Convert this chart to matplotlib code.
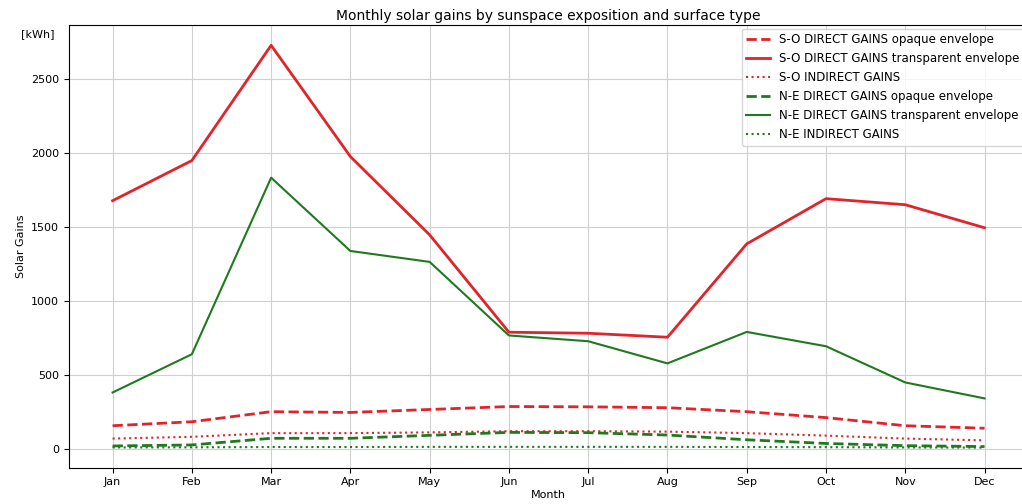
import numpy as np
import matplotlib
matplotlib.use("Agg")
import matplotlib.pyplot as plt

months = ["Jan", "Feb", "Mar", "Apr", "May", "Jun", "Jul", "Aug", "Sep", "Oct", "Nov", "Dec"]

# S-O exposition
so_opaque = [155, 182, 250, 245, 265, 285, 283, 277, 250, 210, 155, 138]
so_transparent = [1678, 1950, 2730, 1977, 1447, 788, 781, 754, 1386, 1692, 1651, 1495]
so_indirect = [68, 80, 105, 105, 110, 118, 118, 115, 105, 88, 68, 56]

# N-E exposition
ne_opaque = [18, 25, 70, 70, 90, 110, 108, 92, 60, 35, 20, 14]
ne_transparent = [380, 639, 1834, 1338, 1264, 766, 727, 577, 790, 693, 448, 340]
ne_indirect = [8, 9, 11, 11, 12, 12, 12, 12, 11, 10, 8, 7]

red = "#e0242c"
green = "#1f7a1f"

fig = plt.figure(figsize=(10.22, 5.04), dpi=100)
ax = fig.add_axes([0.0675, 0.072, 0.9385, 0.878])

ax.plot(months, so_opaque, color=red, ls="--", lw=2, label="S-O DIRECT GAINS opaque envelope")
ax.plot(months, so_transparent, color=red, ls="-", lw=2, label="S-O DIRECT GAINS transparent envelope")
ax.plot(months, so_indirect, color=red, ls=":", lw=1.5, label="S-O INDIRECT GAINS")
ax.plot(months, ne_opaque, color=green, ls="--", lw=2, label="N-E DIRECT GAINS opaque envelope")
ax.plot(months, ne_transparent, color=green, ls="-", lw=1.5, label="N-E DIRECT GAINS transparent envelope")
ax.plot(months, ne_indirect, color=green, ls=":", lw=1.5, label="N-E INDIRECT GAINS")

ax.grid(True, color="#d0d0d0", lw=0.8)
ax.tick_params(labelsize=8)
ax.set_xlabel("Month", fontsize=8, labelpad=2)
ax.set_ylabel("Solar Gains", fontsize=8)
ax.set_title("Monthly solar gains by sunspace exposition and surface type", fontsize=10, pad=4)
ax.text(-0.015, 2806, "[kWh]", transform=ax.get_yaxis_transform(), ha="right", va="center", fontsize=8)
ax.legend(loc="upper right", fontsize=8.5, borderaxespad=0.3)

fig.savefig("out.png", dpi=100)
